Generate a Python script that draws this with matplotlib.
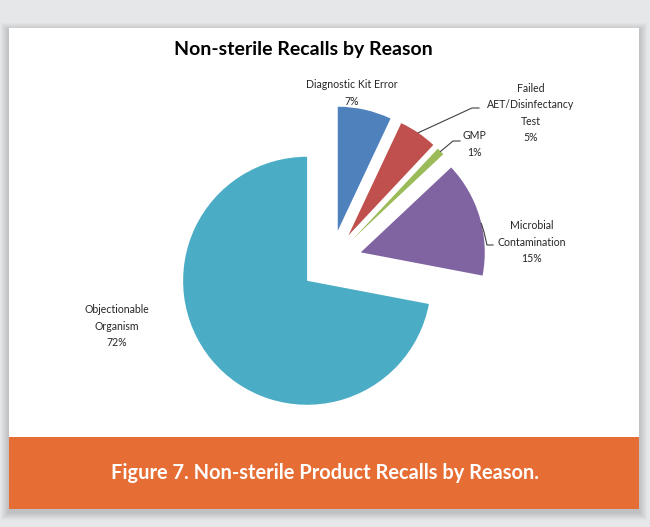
import numpy as np
import matplotlib.pyplot as plt
from matplotlib.patches import Rectangle

plt.rcParams['font.family'] = ['Lato', 'DejaVu Sans']

reasons = ["Diagnostic Kit Error", "Failed\nAET/Disinfectancy\nTest", "GMP",
           "Microbial\nContamination", "Objectionable\nOrganism"]
shares = [7, 5, 1, 15, 72]
colors = ["#4f81bd", "#c0504d", "#9bbb59", "#8064a2", "#4bacc6"]
explode = [0.25, 0.25, 0.25, 0.25, 0.25]

W, H = 650, 527
cx, cy, R = 331, 261, 124   # pie centre / radius in pixels (from top-left)

fig = plt.figure(figsize=(W / 100, H / 100), dpi=100)
fig.patch.set_facecolor("#e6e7e9")

# background panel with soft shadow
bg = fig.add_axes([0, 0, 1, 1])
bg.set_xlim(0, W)
bg.set_ylim(H, 0)
bg.axis('off')
for s in range(8, 0, -1):
    bg.add_patch(Rectangle((9 - s, 28 - s + 3), 630 + 2 * s, 481 + 2 * s,
                           color='black', alpha=0.02, lw=0))
bg.add_patch(Rectangle((9, 28), 630, 410, color='white', lw=0))
bg.add_patch(Rectangle((9, 437), 630, 72, color='#e66d33', lw=0))

# pie
lim = 1.6
side = 2 * lim * R
ax = fig.add_axes([(cx - side / 2) / W, (H - cy - side / 2) / H, side / W, side / H])
wedges, _ = ax.pie(shares, colors=colors, explode=explode, startangle=90,
                   counterclock=False, radius=1,
                   wedgeprops=dict(linewidth=0))
ax.set_xlim(-lim, lim)
ax.set_ylim(-lim, lim)
ax.set_aspect('equal')
ax.axis('off')

# overlay for labels (pixel coords)
ov = fig.add_axes([0, 0, 1, 1])
ov.set_xlim(0, W)
ov.set_ylim(H, 0)
ov.axis('off')
ov.patch.set_alpha(0)


def edge_px(w, frac=0.5):
    th = np.radians(w.theta1 + frac * (w.theta2 - w.theta1))
    x = w.center[0] + w.r * np.cos(th)
    y = w.center[1] + w.r * np.sin(th)
    return cx + R * x, cy - R * y


txt = dict(fontsize=7.6, color='#262626', ha='center', va='center', linespacing=1.6)
labels = [f"{r}\n{v}%" for r, v in zip(reasons, shares)]
label_pos = [(352, 93), (531, 113), (474, 144), (532, 242), (117, 326)]
for lab, (x, y) in zip(labels, label_pos):
    ov.text(x, y, lab, **txt)

# leader lines
lc = dict(color='#404040', lw=0.8)
x0, y0 = edge_px(wedges[1])
ov.plot([x0, 472, 479], [y0, 108, 108], **lc)
x0, y0 = edge_px(wedges[2])
ov.plot([x0, 453, 460], [y0, 141, 141], **lc)
x0, y0 = edge_px(wedges[3], 0.45)
ov.plot([x0, 484, 487, 493], [y0, 232, 245, 245], **lc)

ov.text(303, 50, "Non-sterile Recalls by Reason", fontsize=14, fontweight='bold',
        color='black', ha='center', va='center')
ov.text(325, 473, "Figure 7. Non-sterile Product Recalls by Reason.", fontsize=14.4,
        fontweight='bold', color='white', ha='center', va='center')

fig.savefig("out.png", dpi=100, facecolor=fig.get_facecolor())
